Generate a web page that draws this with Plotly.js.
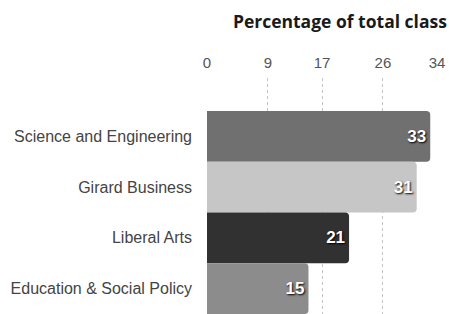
<!DOCTYPE html>
<html>
<head>
<meta charset="utf-8">
<script src="https://cdn.plot.ly/plotly-3.0.1.min.js"></script>
<style>html,body{margin:0;padding:0;background:#fff;}#chart{width:449px;height:314px;}</style>
</head>
<body>
<div id="chart"></div>
<script>
const categories = ["Science and Engineering", "Girard Business", "Liberal Arts", "Education & Social Policy"];
const values = [33, 31, 21, 15];
const barColors = ["#707070", "#c6c6c6", "#313131", "#8c8c8c"];
const tickValues = [0, 9, 17, 26, 34];
const chartTitle = "Percentage of total class";

const trace = {
  type: "bar",
  orientation: "h",
  y: categories,
  x: values,
  width: 1.0,
  marker: {color: barColors, line: {width: 0}, cornerradius: 4},
  text: values.map(String),
  textposition: "inside",
  insidetextanchor: "end",
  textangle: 0,
  textfont: {family: "Liberation Sans, Arial, sans-serif", size: 17, color: "#ffffff", weight: "bold", shadow: "1px 1px 2px #000"},
  hoverinfo: "none",
  cliponaxis: false
};

const layout = {
  width: 449, height: 314,
  margin: {l: 207, r: 12, t: 78, b: 0},
  paper_bgcolor: "#ffffff",
  plot_bgcolor: "#ffffff",
  showlegend: false,
  title: {
    text: "<b>" + chartTitle + "</b>",
    font: {family: "Open Sans, sans-serif", size: 17.5, color: "#1a1a1a"},
    x: 0.757, xref: "container", xanchor: "center",
    y: 0.93, yref: "container", yanchor: "middle"
  },
  xaxis: {
    side: "top",
    range: [0, 34],
    tickvals: tickValues,
    ticktext: tickValues.map(String),
    showgrid: true,
    gridcolor: "#c4c4c4",
    griddash: "dot",
    gridwidth: 1,
    zeroline: false,
    showline: false,
    ticks: "",
    ticklabelstandoff: 6,
    tickfont: {family: "Liberation Sans, Arial, sans-serif", size: 15, color: "#555555"},
    fixedrange: true
  },
  yaxis: {
    type: "category",
    range: [3.5, -1.15],
    showgrid: false,
    zeroline: false,
    showline: false,
    ticks: "",
    ticklabelstandoff: 14,
    tickfont: {family: "Liberation Sans, Arial, sans-serif", size: 16, color: "#444444"},
    fixedrange: true
  }
};

Plotly.newPlot("chart", [trace], layout, {displayModeBar: false, staticPlot: true});
</script>
</body>
</html>
